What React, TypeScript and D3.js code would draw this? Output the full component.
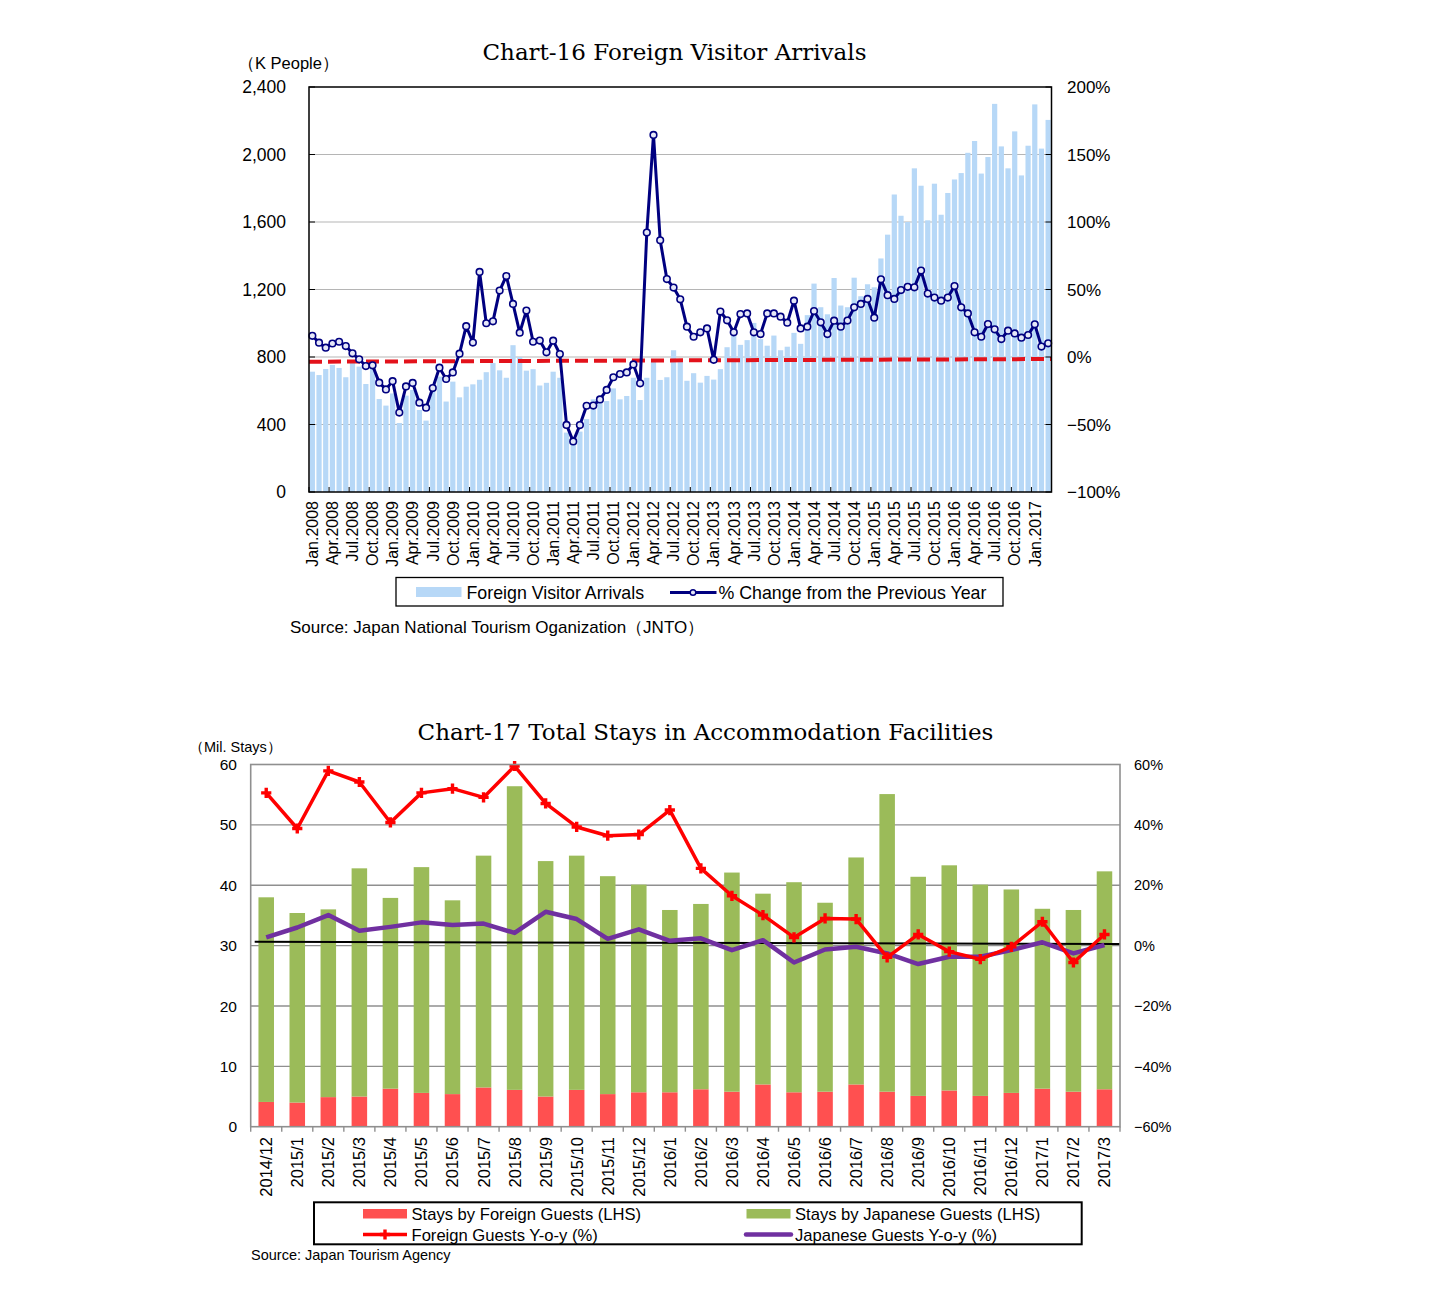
import * as d3 from 'd3';

// ---------- Chart-16 data (K people, % yoy), Jan.2008 - Mar.2017 ----------
const monthNames = ['Jan', 'Feb', 'Mar', 'Apr', 'May', 'Jun', 'Jul', 'Aug', 'Sep', 'Oct', 'Nov', 'Dec'];
const years16 = [2008, 2009, 2010, 2011, 2012, 2013, 2014, 2015, 2016, 2017];

const visitors = [
  713, 693, 729, 753, 735, 680, 782, 743, 640, 738, 551, 512,
  584, 409, 571, 605, 486, 423, 610, 684, 536, 654, 561, 624,
  638, 665, 710, 764, 721, 677, 870, 800, 719, 728, 631, 647,
  713, 677, 352, 296, 358, 432, 549, 555, 539, 614, 549, 569,
  677, 545, 677, 779, 664, 680, 840, 785, 659, 704, 648, 688,
  666, 728, 858, 925, 872, 900, 1002, 906, 867, 927, 840, 861,
  943, 878, 1048, 1235, 1095, 1053, 1268, 1105, 1095, 1270, 1160, 1231,
  1213, 1384, 1525, 1763, 1637, 1600, 1918, 1815, 1610, 1827, 1643, 1772,
  1852, 1890, 2010, 2080, 1887, 1985, 2300, 2048, 1918, 2137, 1876, 2052,
  2297, 2035, 2205,
];

const pctChange = [
  15.7, 10.6, 6.9, 10.0, 11.3, 8.1, 2.7, -1.7, -6.7, -6.2, -19.0, -24.0,
  -17.9, -41.2, -21.8, -19.2, -33.8, -37.5, -23.0, -7.9, -16.3, -11.4, 2.5, 22.8,
  10.7, 63.0, 25.0, 26.4, 49.2, 60.0, 39.3, 18.0, 34.4, 11.3, 12.2, 3.5,
  12.1, 2.2, -50.3, -62.5, -50.4, -36.1, -36.0, -31.4, -24.4, -15.0, -12.6, -11.4,
  -5.5, -19.5, 92.2, 164.5, 86.5, 57.7, 51.4, 42.7, 22.5, 15.0, 18.3, 21.2,
  -2.1, 33.7, 27.2, 18.3, 31.8, 32.3, 18.3, 17.0, 32.3, 32.3, 29.9, 25.4,
  41.7, 21.2, 22.5, 34.0, 25.7, 17.0, 26.9, 22.5, 27.0, 36.8, 39.3, 43.0,
  29.1, 57.6, 45.8, 43.0, 49.6, 52.0, 51.6, 64.0, 47.0, 44.0, 41.7, 44.0,
  52.6, 36.8, 32.3, 18.3, 15.0, 24.4, 20.5, 13.3, 19.5, 17.5, 14.3, 16.3,
  24.2, 7.7, 10.1,
];

// red dashed reference line, start / end (%)
const trend16 = [-3.5, -1.5];
const leftTicks16 = [0, 400, 800, 1200, 1600, 2000, 2400];
const rightTicks16 = [-100, -50, 0, 50, 100, 150, 200];

const months16: string[] = [];
years16.forEach(y => monthNames.forEach(m => { if (months16.length < visitors.length) months16.push(`${m}.${y}`) }));

// ---------- Chart-17 data ----------
const periods17 = [
  '2014/12', '2015/1', '2015/2', '2015/3', '2015/4', '2015/5', '2015/6', '2015/7', '2015/8', '2015/9',
  '2015/10', '2015/11', '2015/12', '2016/1', '2016/2', '2016/3', '2016/4', '2016/5', '2016/6', '2016/7',
  '2016/8', '2016/9', '2016/10', '2016/11', '2016/12', '2017/1', '2017/2', '2017/3',
];
const foreignStays = [4.1, 4.0, 4.9, 5.0, 6.3, 5.6, 5.4, 6.5, 6.1, 5.0, 6.1, 5.4, 5.7, 5.7, 6.2, 5.8, 7.0, 5.7, 5.8, 7.0, 5.8, 5.1, 6.0, 5.1, 5.6, 6.3, 5.8, 6.2];
const japaneseStays = [33.9, 31.4, 31.1, 37.8, 31.6, 37.4, 32.1, 38.4, 50.3, 39.0, 38.8, 36.1, 34.4, 30.2, 30.7, 36.3, 31.6, 34.8, 31.3, 37.6, 49.3, 36.3, 37.3, 35.0, 33.7, 29.8, 30.1, 36.1];
const foreignYoy = [50.6, 38.8, 57.9, 54.2, 40.8, 50.6, 52.0, 49.1, 59.5, 47.1, 39.3, 36.4, 36.8, 44.9, 25.6, 16.5, 10.1, 2.7, 9.0, 8.8, -3.9, 3.7, -2.0, -4.5, -0.4, 7.9, -5.6, 3.7];
const japaneseYoy = [2.7, 6.0, 10.1, 4.9, 6.2, 7.7, 6.8, 7.3, 4.2, 11.2, 8.8, 2.2, 5.4, 1.6, 2.4, -1.5, 1.8, -5.6, -1.3, -0.4, -2.6, -6.1, -3.7, -3.7, -1.5, 1.1, -2.6, 0.2];
// black base line, start / end (%)
const base17 = [1.3, 0.5];

const sans = "'Liberation Sans', Arial, sans-serif";
const serif = "'DejaVu Serif', serif";
const pctLabel = (v: number) => (v < 0 ? `\u2212${-v}%` : `${v}%`);

function Chart16() {
  const L = 309, R = 1051.5, T = 87, B = 492;
  const x = d3.scaleBand<string>().domain(months16).range([L, R]).paddingInner(0.22).paddingOuter(0.11);
  const cx = (m: string) => (x(m) ?? 0) + x.bandwidth() / 2;
  const xb = d3.scaleLinear().domain([0, months16.length]).range([L, R]);
  const yL = d3.scaleLinear().domain([0, 2400]).range([B, T]);
  const yR = d3.scaleLinear().domain([-100, 200]).range([B, T]);
  const line = d3.line<number>().x((d, i) => cx(months16[i])).y(d => yR(d));
  const quarters = d3.range(0, months16.length + 1, 3);
  const labels = months16.filter((m, i) => i % 3 === 0);

  return (
    <g>
      <text x={674.5} y={60} textAnchor='middle' fontFamily={serif} fontSize={23}>Chart-16 Foreign Visitor Arrivals</text>
      <text x={238} y={69} fontFamily={sans} fontSize={16.5}>（K People）</text>

      {leftTicks16.filter(t => t > 0 && t < 2400).map(t =>
        <line key={t} x1={L} x2={R} y1={yL(t)} y2={yL(t)} stroke='#b5b5b5' strokeWidth={1.2} />)}

      {visitors.map((v, i) =>
        <rect key={i} x={x(months16[i])} y={yL(v)} width={x.bandwidth()} height={B - yL(v)} fill='#b7d8f7' />)}

      <line x1={L} x2={R} y1={yR(trend16[0])} y2={yR(trend16[1])} stroke='#e3121b' strokeWidth={4} strokeDasharray='13 6' />

      <path d={line(pctChange) as string} fill='none' stroke='#000080' strokeWidth={3} strokeLinejoin='round' />
      {pctChange.map((v, i) =>
        <circle key={i} cx={cx(months16[i])} cy={yR(v)} r={3.3} fill='#e6e8f8' stroke='#000080' strokeWidth={1.6} />)}

      <rect x={L} y={T} width={R - L} height={B - T} fill='none' stroke='#000' strokeWidth={1.5} />

      {leftTicks16.map(t => <g key={t}>
        <line x1={L} x2={L + 6} y1={yL(t)} y2={yL(t)} stroke='#000' />
        <text x={286} y={yL(t)} dy='0.36em' textAnchor='end' fontFamily={sans} fontSize={17.5}>{d3.format(',')(t)}</text>
      </g>)}
      {rightTicks16.map(t => <g key={t}>
        <line x1={R - 6} x2={R} y1={yR(t)} y2={yR(t)} stroke='#000' />
        <text x={1067} y={yR(t)} dy='0.36em' fontFamily={sans} fontSize={17}>{pctLabel(t)}</text>
      </g>)}
      {quarters.map(q => <line key={q} x1={xb(q)} x2={xb(q)} y1={B} y2={B - 5} stroke='#000' />)}
      {labels.map(m =>
        <text key={m} transform={`translate(${cx(m)},501) rotate(-90)`} dy='0.36em' textAnchor='end' fontFamily={sans} fontSize={16}>{m}</text>)}

      <rect x={396} y={577.5} width={607} height={28.5} fill='#fff' stroke='#000' strokeWidth={1.3} />
      <rect x={416} y={587} width={45.5} height={10} fill='#b7d8f7' />
      <text x={466.5} y={598.5} fontFamily={sans} fontSize={17.8}>Foreign Visitor Arrivals</text>
      <line x1={670} x2={716.5} y1={592.5} y2={592.5} stroke='#000080' strokeWidth={3} />
      <circle cx={693} cy={592.5} r={2.8} fill='#e6e8f8' stroke='#000080' strokeWidth={1.5} />
      <text x={718.5} y={598.5} fontFamily={sans} fontSize={17.8}>% Change from the Previous Year</text>

      <text x={290} y={633} fontFamily={sans} fontSize={17}>Source: Japan National Tourism Oganization（JNTO）</text>
    </g>
  );
}

function Chart17() {
  const L = 250.7, R = 1120, T = 764.5, B = 1126.7;
  const x = d3.scaleBand<string>().domain(periods17).range([L, R]).paddingInner(0.5).paddingOuter(0.25);
  const cx = (p: string) => (x(p) ?? 0) + x.bandwidth() / 2;
  const xb = d3.scaleLinear().domain([0, periods17.length]).range([L, R]);
  const yL = d3.scaleLinear().domain([0, 60]).range([B, T]);
  const yR = d3.scaleLinear().domain([-60, 60]).range([B, T]);

  const rows = periods17.map((p, i) => ({ period: p, foreign: foreignStays[i], japanese: japaneseStays[i] }));
  const stack = d3.stack<{ period: string; foreign: number; japanese: number }>().keys(['foreign', 'japanese'])(rows);
  const fills: Record<string, string> = { foreign: '#ff5050', japanese: '#9bbb59' };

  const line = d3.line<number>().x((d, i) => cx(periods17[i])).y(d => yR(d));
  const cross = d3.symbol(d3.symbolCross, 58)() as string;
  const leftTicks = yL.ticks(6);
  const rightTicks = yR.ticks(6);

  return (
    <g>
      <text x={705.5} y={740} textAnchor='middle' fontFamily={serif} fontSize={23}>Chart-17 Total Stays in Accommodation Facilities</text>
      <text x={189} y={752} fontFamily={sans} fontSize={14.5}>（Mil. Stays）</text>

      {leftTicks.filter(t => t > 0 && t < 60).map(t =>
        <line key={t} x1={L} x2={R} y1={yL(t)} y2={yL(t)} stroke='#8f8f8f' strokeWidth={1.4} />)}

      {stack.map(s => <g key={s.key} fill={fills[s.key]}>
        {s.map(d => <rect key={d.data.period} x={x(d.data.period)} y={yL(d[1])} width={x.bandwidth()} height={yL(d[0]) - yL(d[1])} />)}
      </g>)}

      <line x1={L + 4} x2={R} y1={yR(base17[0])} y2={yR(base17[1])} stroke='#000' strokeWidth={2} />

      <path d={line(japaneseYoy) as string} fill='none' stroke='#7030a0' strokeWidth={4.5} strokeLinejoin='round' />
      <path d={line(foreignYoy) as string} fill='none' stroke='#ff0000' strokeWidth={3.5} strokeLinejoin='round' />
      {foreignYoy.map((v, i) =>
        <path key={i} d={cross} transform={`translate(${cx(periods17[i])},${yR(v)})`} fill='#ff0000' />)}

      <rect x={L} y={T} width={R - L} height={B - T} fill='none' stroke='#8f8f8f' strokeWidth={1.6} />

      {leftTicks.map(t =>
        <text key={t} x={237} y={yL(t)} dy='0.36em' textAnchor='end' fontFamily={sans} fontSize={15.5}>{t}</text>)}
      {rightTicks.map(t =>
        <text key={t} x={1134} y={yR(t)} dy='0.36em' fontFamily={sans} fontSize={14.5}>{pctLabel(t)}</text>)}
      {d3.range(0, periods17.length + 1).map(k =>
        <line key={k} x1={xb(k)} x2={xb(k)} y1={B} y2={B + 5} stroke='#8f8f8f' strokeWidth={1.4} />)}
      {periods17.map(p =>
        <text key={p} transform={`translate(${cx(p)},1137) rotate(-90)`} dy='0.36em' textAnchor='end' fontFamily={sans} fontSize={16.5}>{p}</text>)}

      <rect x={314} y={1202.3} width={767.7} height={42} fill='#fff' stroke='#000' strokeWidth={2} />
      <rect x={363} y={1209} width={44} height={9.5} fill='#ff5050' />
      <text x={411.5} y={1219.5} fontFamily={sans} fontSize={16.6}>Stays by Foreign Guests (LHS)</text>
      <line x1={363} x2={407} y1={1234.5} y2={1234.5} stroke='#ff0000' strokeWidth={3.5} />
      <path d={cross} transform='translate(385,1234.5)' fill='#ff0000' />
      <text x={411.5} y={1240.5} fontFamily={sans} fontSize={16.6}>Foreign Guests Y-o-y (%)</text>
      <rect x={746.5} y={1209} width={44} height={9.5} fill='#9bbb59' />
      <text x={795} y={1219.5} fontFamily={sans} fontSize={16.6}>Stays by Japanese Guests (LHS)</text>
      <line x1={746} x2={791} y1={1234.5} y2={1234.5} stroke='#7030a0' strokeWidth={4.5} strokeLinecap='round' />
      <text x={795} y={1240.5} fontFamily={sans} fontSize={16.6}>Japanese Guests Y-o-y (%)</text>

      <text x={251} y={1260} fontFamily={sans} fontSize={14.5}>Source: Japan Tourism Agency</text>
    </g>
  );
}

export default function App() {
  return (
    <svg width={1450} height={1291} style={{ position: 'absolute', left: 0, top: 0, background: '#fff' }}>
      <Chart16 />
      <Chart17 />
    </svg>
  );
}
